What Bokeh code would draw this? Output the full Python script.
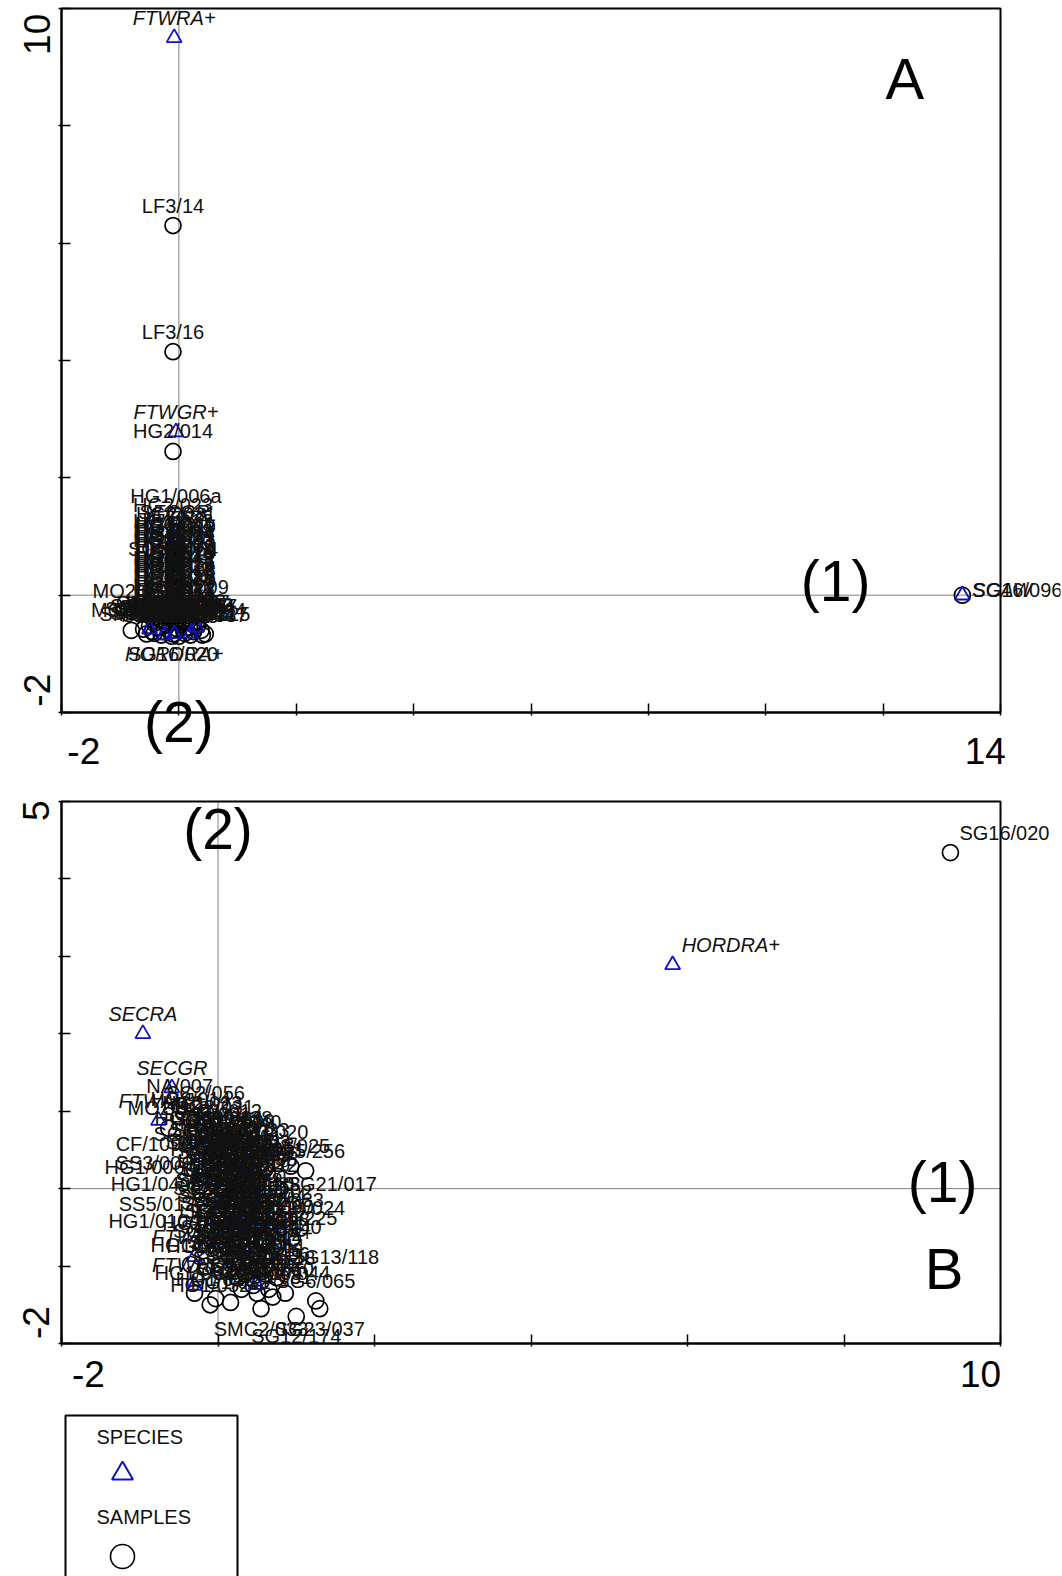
import math
from bokeh.plotting import figure
from bokeh.models import Range1d, FixedTicker, Label, LabelSet, ColumnDataSource, BoxAnnotation
from bokeh.layouts import column
from bokeh.embed import file_html
from bokeh.resources import INLINE
from bokeh.core.properties import value

FONT = "Liberation Sans"
BLUE = "#1010cc"
INK = "#111111"

# ---------------- Panel A data ----------------
a_xlim = (-2, 14)
a_ylim = (-2, 10)
a_xticks = [-2, 0, 2, 4, 6, 8, 10, 12, 14]
a_yticks = [-2, 0, 2, 4, 6, 8, 10]

a_sample_names = ["LF3/14", "LF3/16", "HG2/014", "HG1/006a", "HG2/023", "HG2/031", "HG1/012",
                  "HG1/019", "HG2/008", "HG1/027", "HG2/040", "HG1/033", "SG52/064", "HG2/019",
                  "HG1/045", "HG1/051", "HG2/027", "HG1/008", "MO2/013", "HG2/035", "HG1/060",
                  "MO2/009", "HG2/012", "HG1/017", "HG2/044", "HG1/072",
                  "HG3/001", "HG3/002", "HG3/004", "HG3/005", "HG3/007", "HG3/009", "HG3/010",
                  "HG3/012", "HG3/013", "HG3/015", "HG3/016", "HG3/018", "HG3/020", "HG3/021",
                  "HG3/023", "HG3/024", "HG3/026",
                  "MO2/011", "SG4/112", "SG9/031", "SG11/075", "SG3/088", "SG7/102", "SG2/049",
                  "SG16/020", "SG20/027", "SG21/017", "SG13/118", "SG12/174", "SG8/065", "SG6/037",
                  "SG14/024", "SG15/225", "SG10/044", "SG5/256", "SG18/025", "CF/1096", "NA/007",
                  "HG1/040", "HG1/010", "SMC2/033", "SG23/037", "SG9/138", "SG3/020", "SS3/006",
                  "HG1/022", "HG1/031", "SS5/012", "SG1/033", "SG16/096"]
a_sample_x = [-0.10, -0.10, -0.10, -0.05, -0.10, -0.05, -0.10,
              -0.05, -0.10, -0.05, -0.10, -0.05, -0.10, -0.05,
              -0.10, -0.05, -0.10, -0.05, 0.10, -0.10, -0.05,
              0.15, -0.10, -0.05, -0.10, -0.05,
              -0.07, -0.07, -0.07, -0.07, -0.07, -0.07, -0.07,
              -0.07, -0.07, -0.07, -0.07, -0.07, -0.07, -0.07,
              -0.07, -0.07, -0.07,
              -0.81, -0.60, -0.50, -0.42, -0.35, -0.28, -0.20,
              -0.10, -0.02, 0.05, 0.10, 0.18, 0.25, 0.32,
              0.38, 0.45, 0.20, -0.30, -0.02, -0.42, 0.30,
              -0.22, 0.12, -0.55, 0.40, -0.15, 0.08, -0.45,
              0.25, -0.30, -0.12, 0.00, 13.35]
a_sample_y = [6.30, 4.15, 2.45, 1.35, 1.20, 1.05, 0.92,
              0.84, 0.76, 0.68, 0.60, 0.52, 0.44, 0.37,
              0.30, 0.22, 0.15, 0.08, 0.03, -0.02, -0.10,
              -0.20, -0.18, -0.26, -0.34, -0.41,
              0.88, 0.80, 0.72, 0.64, 0.56, 0.48, 0.40,
              0.33, 0.26, 0.19, 0.12, 0.05, -0.05, -0.15,
              -0.25, -0.35, -0.45,
              -0.60, -0.58, -0.52, -0.65, -0.55, -0.62, -0.50,
              -0.66, -0.58, -0.50, -0.65, -0.55, -0.62, -0.52,
              -0.60, -0.66, -0.68, -0.68, -0.46, -0.48, -0.46,
              -0.45, -0.44, -0.66, -0.68, -0.60, -0.60, -0.62,
              -0.50, -0.55, -0.70, -0.70, 0.00]
a_species_names = ["FTWRA+", "FTWGR+", "SECGR", "AVESA", "SECRA", "HORDRA+", "FTWAV+",
                   "TRITI+", "FTWHO+", "SCAW"]
a_species_x = [-0.08, -0.05, -0.08, -0.05, -0.50, -0.08, 0.30, 0.20, -0.25, 13.35]
a_species_y = [9.50, 2.78, 1.08, 0.98, -0.58, -0.66, -0.55, -0.65, -0.68, 0.00]

a_sample_place = {"SG16/096": "r", "SG16/020": "b", "MO2/013": "l"}
a_species_place = {"SCAW": "r", "HORDRA+": "b"}

# ---------------- Panel B data ----------------
b_xlim = (-2, 10)
b_ylim = (-2, 5)
b_xticks = [-2, 0, 2, 4, 6, 8, 10]
b_yticks = [-2, -1, 0, 1, 2, 3, 4, 5]

b_sample_names = ["SG16/020", "NA/007", "SG2/056", "MO2/018", "SG9/138", "CF/1096", "SG3/020",
                  "SG8/025", "SG5/256", "SS3/006", "HG1/006", "HG1/040", "SG21/017", "SS5/012",
                  "HG1/010", "SG14/024", "SG15/225", "SG13/118", "HG1/022", "HG1/031", "SG10/044",
                  "SG6/065", "SMC2/033", "SG23/037", "SG12/174",
                  "HG2/014", "HG2/023", "HG2/031", "HG1/012", "HG1/019", "HG2/008", "HG1/027",
                  "HG2/040", "HG1/033", "SG52/064", "HG2/019", "HG1/045", "MO2/013", "HG1/051",
                  "HG2/027", "MO2/009", "HG1/008", "HG2/035", "HG1/060", "HG2/012", "MO2/011",
                  "SG4/112", "SG9/031", "SG11/075", "SG3/088", "SG7/102", "SG2/049", "SG20/027",
                  "SG18/025", "SG12/090", "SG1/033", "LF3/14", "LF3/16", "HG1/006a", "SG17/011",
                  "SG19/040", "SG22/015", "SG7/063", "SG11/101", "SG8/044", "SG4/029", "SG6/082",
                  "SG13/052", "SG2/118", "SG10/070", "SG14/009", "SG5/031", "HG1/017", "HG2/044",
                  "SG16/096", "HG1/072", "HG1/052", "HG1/063",
                  "SG24/011", "SG24/013", "SG25/002", "SG25/007", "SG26/019", "SG26/021",
                  "SG27/004", "SG27/008", "SG28/015", "SG28/016", "SG29/003", "SG29/009",
                  "SG30/012", "SG30/014", "SG31/001", "SG31/006", "SG32/010", "SG32/018",
                  "LF2/007", "LF2/011",
                  "SG33/001", "SG33/004", "SG33/009", "SG34/002", "SG34/006", "SG34/011",
                  "SG35/003", "SG35/008", "SG35/014", "SG36/001", "SG36/005", "SG36/012",
                  "SG37/002", "SG37/007", "SG37/010", "SG38/004", "SG38/009", "SG38/015",
                  "SG39/001", "SG39/006", "SG39/013", "SG40/002", "SG40/008", "SG40/011",
                  "SG41/003", "SG41/005", "SG41/016", "SG42/001", "SG42/007", "SG42/010"]
b_sample_x = [9.36, -0.49, -0.16, -0.63, 0.19, -0.20, 0.65,
              0.93, 1.12, -0.20, -0.30, -0.22, 0.75, -0.16,
              -0.25, 1.05, 0.95, 0.80, -0.03, 0.16, 0.86,
              1.25, 0.55, 1.30, 1.00,
              -0.35, -0.20, -0.05, 0.05, -0.30, -0.10, 0.10,
              0.30, 0.40, -0.25, 0.00, 0.20, 0.45, 0.60,
              -0.10, 0.10, 0.30, 0.50, 0.05, 0.20, 0.40,
              -0.05, 0.15, 0.35, 0.55, 0.70, 0.00, 0.25,
              0.45, 0.65, 0.85, -0.10, 0.10, 0.30, 0.55,
              0.75, 0.00, 0.20, 0.40, 0.60, 0.15, 0.35,
              0.55, 0.75, 0.30, 0.50, 0.70, -0.15, -0.20,
              0.45, -0.35, -0.10, -0.30,
              0.00, 0.15, 0.25, 0.10, 0.35, 0.20,
              0.00, 0.30, 0.10, 0.45, 0.10, 0.30,
              0.50, 0.20, 0.40, 0.60, 0.05, 0.25,
              -0.05, 0.15,
              -0.15, 0.00, 0.15, -0.05, 0.10, 0.25,
              0.35, -0.10, 0.05, 0.20, 0.35, 0.45,
              0.10, 0.25, 0.40, 0.55, 0.05, 0.20,
              0.35, 0.50, 0.15, 0.40, 0.60, 0.20,
              0.45, 0.30, 0.50, 0.25, 0.45, 0.65]
b_sample_y = [4.34, 1.07, 0.98, 0.78, 0.65, 0.55, 0.47,
              0.29, 0.23, 0.30, 0.25, 0.04, 0.00, -0.22,
              -0.44, -0.51, -0.64, -0.95, -1.42, -1.47, -1.35,
              -1.45, -1.55, -1.55, -1.65,
              0.90, 0.85, 0.80, 0.75, 0.65, 0.60, 0.55,
              0.60, 0.50, 0.45, 0.40, 0.35, 0.30, 0.25,
              0.25, 0.15, 0.10, 0.12, 0.00, -0.05, -0.10,
              -0.15, -0.20, -0.25, -0.20, -0.30, -0.35, -0.40,
              -0.45, -0.50, -0.40, -0.55, -0.60, -0.65, -0.70,
              -0.75, -0.80, -0.85, -0.90, -1.00, -1.05, -1.10,
              -1.20, -1.15, -1.30, -1.35, -1.40, -1.00, -0.70,
              0.20, -0.98, -1.50, -1.35,
              0.50, 0.45, 0.25, 0.30, 0.05, 0.05,
              -0.25, -0.55, -0.45, -0.60, -0.75, -0.80,
              -0.85, -0.95, -1.00, -1.10, -0.30, -0.15,
              0.10, -0.10,
              0.70, 0.65, 0.62, 0.50, 0.42, 0.40,
              0.35, 0.35, 0.22, 0.20, 0.18, 0.05,
              -0.02, -0.08, -0.20, -0.35, -0.15, -0.30,
              -0.40, -0.50, -0.55, -0.65, -0.65, -0.70,
              -0.78, -0.95, -1.05, -1.15, -1.25, -1.30]
b_species_names = ["HORDRA+", "SECRA", "SECGR", "FTWAV+", "FTWGR+", "FTWRA+", "TRITI+",
                   "FTWHO+", "AVESA", "SCAW"]
b_species_x = [5.81, -0.96, -0.59, -0.76, -0.30, 0.68, 0.49, -0.30, 0.30, 0.20]
b_species_y = [2.89, 2.00, 1.30, 0.88, -0.88, -0.85, -1.24, -1.25, 0.20, -0.50]

b_sample_place = {"SG16/020": "ur", "SG21/017": "r", "SG13/118": "r", "SG12/174": "b",
                  "SMC2/033": "b", "SG23/037": "b",
                  "CF/1096": "l", "SS3/006": "l", "HG1/006": "l", "HG1/040": "l",
                  "SS5/012": "l", "HG1/010": "l"}
b_species_place = {"HORDRA+": "ur"}

# ---------------- layout constants (pixels) ----------------
W = 1062
BORDER_L, BORDER_R = 10, 2
FRAME_X = (BORDER_L, W - BORDER_R)
BOX_X = (61, 1000)
A_H, B_H, L_H = 785, 615, 176
BOTTOM_PAD = 8
A_BOX_Y = (8, 712)         # pixel rows of the plot box, panel A (local)
B_BOX_Y = (16, 558)        # panel B (local)

ANCHORS = {
    "a": dict(text_align="center", text_baseline="alphabetic", x_offset=0, y_offset=13),
    "b": dict(text_align="center", text_baseline="top", x_offset=0, y_offset=-9),
    "r": dict(text_align="left", text_baseline="middle", x_offset=10, y_offset=5),
    "ur": dict(text_align="left", text_baseline="alphabetic", x_offset=9, y_offset=13),
    "l": dict(text_align="right", text_baseline="middle", x_offset=-10, y_offset=2),
}


def range_for(lim, box_px, frame_px, flip=False):
    lo, hi = lim
    if flip:  # screen y grows downward: hi at box_px[0]
        s = (lo - hi) / (box_px[1] - box_px[0])
        a = hi + (frame_px[0] - box_px[0]) * s
        b = hi + (frame_px[1] - box_px[0]) * s
        return Range1d(min(a, b), max(a, b))
    s = (hi - lo) / (box_px[1] - box_px[0])
    return Range1d(lo + (frame_px[0] - box_px[0]) * s, lo + (frame_px[1] - box_px[0]) * s)


def add_labels(p, names, xs, ys, italic, place):
    groups = {}
    for n, x, y in zip(names, xs, ys):
        g = groups.setdefault(place.get(n, "a"), {"x": [], "y": [], "t": []})
        g["x"].append(x)
        g["y"].append(y)
        g["t"].append(n)
    for pos, g in groups.items():
        ls = LabelSet(x="x", y="y", text="t", source=ColumnDataSource(g),
                      text_font=value(FONT), text_font_size="20px",
                      text_font_style="italic" if italic else "normal",
                      text_color=INK, **ANCHORS[pos])
        p.add_layout(ls)


def make_panel(height, box_y, xlim, ylim, xticks, yticks):
    frame_y = (0, height - BOTTOM_PAD)
    p = figure(width=W, height=height,
               x_range=range_for(xlim, BOX_X, FRAME_X),
               y_range=range_for(ylim, box_y, frame_y, flip=True),
               output_backend="svg", toolbar_location=None,
               min_border_left=BORDER_L, min_border_right=BORDER_R,
               min_border_top=0, min_border_bottom=BOTTOM_PAD)
    p.grid.visible = False
    p.outline_line_color = None
    xa, ya = p.xaxis[0], p.yaxis[0]
    xa.fixed_location = ylim[0]
    xa.bounds = xlim
    ya.fixed_location = xlim[0]
    ya.bounds = ylim
    for ax, ticks in ((xa, xticks), (ya, yticks)):
        ax.ticker = FixedTicker(ticks=ticks)
        ax.major_label_overrides = {t: "" for t in ticks}
        ax.major_label_text_font_size = "1px"
        ax.major_label_standoff = 0
        ax.major_tick_in = 9
        ax.major_tick_out = 3
        ax.major_tick_line_width = 1.5
        ax.minor_tick_line_color = None
        ax.axis_line_width = 2
    p.add_layout(BoxAnnotation(left=xlim[0], right=xlim[1], bottom=ylim[0], top=ylim[1],
                               fill_alpha=0, line_color="black", line_alpha=1, line_width=2))
    # origin reference lines
    p.segment(x0=[0, xlim[0]], y0=[ylim[0], 0], x1=[0, xlim[1]], y1=[ylim[1], 0],
              line_color="#000000", line_width=1, line_dash="1 1")
    return p


def add_points(p, sx, sy, px, py):
    p.scatter(sx, sy, marker="circle", size=16, fill_alpha=0, line_color="black", line_width=1.7)
    p.scatter(px, py, marker="triangle", size=15, fill_alpha=0, line_color=BLUE, line_width=1.8)


def txt(p, s, x, y, size, angle=0.0):
    p.add_layout(Label(x=x, y=y, text=s, text_font=FONT, text_font_size=size,
                       text_align="center", text_baseline="middle", angle=angle,
                       text_color="black"))


# ---------------- Panel A ----------------
pa = make_panel(A_H, A_BOX_Y, a_xlim, a_ylim, a_xticks, a_yticks)
add_points(pa, a_sample_x, a_sample_y, a_species_x, a_species_y)
add_labels(pa, a_sample_names, a_sample_x, a_sample_y, False, a_sample_place)
add_labels(pa, a_species_names, a_species_x, a_species_y, True, a_species_place)
txt(pa, str(a_ylim[1]), -2.41, 9.56, "37px", math.pi / 2)
txt(pa, str(a_ylim[0]), -2.41, -1.62, "37px", math.pi / 2)
txt(pa, str(a_xlim[0]), -1.62, -2.65, "37px")
txt(pa, str(a_xlim[1]), 13.74, -2.65, "37px")
txt(pa, "(1)", 11.19, 0.25, "57px")
txt(pa, "(2)", 0.0, -2.17, "57px")
txt(pa, "A", 12.37, 8.81, "58px")

# ---------------- Panel B ----------------
pb = make_panel(B_H, B_BOX_Y, b_xlim, b_ylim, b_xticks, b_yticks)
add_points(pb, b_sample_x, b_sample_y, b_species_x, b_species_y)
add_labels(pb, b_sample_names, b_sample_x, b_sample_y, False, b_sample_place)
add_labels(pb, b_species_names, b_species_x, b_species_y, True, b_species_place)
txt(pb, str(b_ylim[1]), -2.32, 4.88, "37px", math.pi / 2)
txt(pb, str(b_ylim[0]), -2.32, -1.73, "37px", math.pi / 2)
txt(pb, str(b_xlim[0]), -1.655, -2.39, "37px")
txt(pb, str(b_xlim[1]), 9.745, -2.39, "37px")
txt(pb, "(2)", 0.0, 4.65, "57px")
txt(pb, "(1)", 9.26, 0.08, "57px")
txt(pb, "B", 9.28, -1.03, "58px")

# ---------------- Legend ----------------
pl = figure(width=W, height=L_H, x_range=Range1d(*FRAME_X), y_range=Range1d(L_H, 0),
            output_backend="svg", toolbar_location=None,
            min_border_left=BORDER_L, min_border_right=BORDER_R,
            min_border_top=0, min_border_bottom=0)
pl.axis.visible = False
pl.grid.visible = False
pl.outline_line_color = None
pl.quad(left=[65], right=[237], top=[15], bottom=[200], fill_alpha=0,
        line_color="black", line_width=2)
pl.text(x=[96, 96], y=[36, 116], text=["SPECIES", "SAMPLES"], text_font=value(FONT),
        text_font_size="20px", text_baseline="middle", text_align="left", text_color=INK)
pl.scatter([122], [73], marker="triangle", size=21, fill_alpha=0, line_color=BLUE, line_width=2)
pl.scatter([122], [156], marker="circle", size=24, fill_alpha=0, line_color="black", line_width=1.6)

layout = column(pa, pb, pl, spacing=0)
open("out.html", "w").write(file_html(layout, INLINE))
